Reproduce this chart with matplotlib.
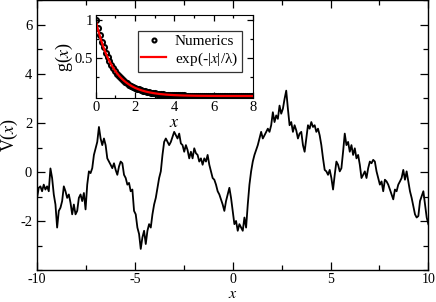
import numpy as np
import matplotlib
matplotlib.use('Agg')
import matplotlib.pyplot as plt
from matplotlib.ticker import MultipleLocator, FixedLocator

plt.rcParams['font.family'] = ['Liberation Serif', 'DejaVu Serif']
plt.rcParams['mathtext.fontset'] = 'stix'
plt.rcParams['axes.unicode_minus'] = False

# ---- main panel: rough potential V(x) ----
x_min, x_max = -10, 10
V = [
    -1.05, -0.64, -0.58, -0.78, -0.51, -0.71, -0.58, -0.78, 0.15, -0.24,
    -0.91, -1.32, -2.26, -1.58, -1.45, -1.18, -0.58, -0.78, -1.05, -0.91,
    -1.25, -1.72, -1.32, -1.72, -1.58, -1.05, -0.91, -1.18, -0.85, -1.52,
    -0.51, 0.03, -0.04, 0.16, 0.70, 0.97, 1.23, 1.84, 1.37, 1.10,
    1.37, 1.10, 0.56, 0.43, 0.30, 0.16, 0.36, 0.09, -0.11, 0.23,
    0.43, 0.36, -0.11, -0.24, -0.51, -0.44, -0.78, -0.71, -1.58, -1.72,
    -2.26, -2.52, -3.13, -2.66, -2.39, -2.93, -2.39, -2.12, -2.26, -1.72,
    -1.32, -1.05, -0.64, -0.24, 0.03, 0.70, 1.23, 1.37, 1.23, 1.10,
    1.23, 1.44, 1.64, 1.50, 1.37, 1.57, 1.17, 1.10, 0.83, 1.10,
    0.90, 0.56, 0.83, 0.56, 0.97, 0.77, 0.70, 0.43, 0.56, 0.30,
    0.56, 0.43, 0.70, 0.30, 0.03, -0.24, -0.31, -0.51, -0.78, -0.91,
    -1.11, -1.32, -1.58, -1.18, -0.91, -0.64, -1.05, -1.58, -2.12, -1.99,
    -2.39, -2.12, -2.26, -2.39, -1.85, -2.26, -1.32, -0.51, 0.03, 0.43,
    0.70, 0.90, 1.10, 1.37, 1.64, 1.37, 1.50, 1.64, 1.77, 1.64,
    1.91, 2.44, 2.04, 2.31, 2.17, 2.71, 2.38, 2.58, 2.98, 3.32,
    2.58, 1.91, 2.04, 1.64, 1.91, 1.70, 1.37, 1.57, 1.64, 1.10,
    0.83, 1.37, 1.91, 1.77, 2.04, 1.84, 1.91, 1.64, 1.77, 1.50,
    1.10, 0.56, 0.09, 0.03, -0.11, 0.09, -0.24, -0.71, -0.11, 0.43,
    0.30, 0.03, 0.16, 0.83, 1.57, 1.10, 1.23, 0.83, 1.10, 0.70,
    0.97, 0.56, 0.70, 0.30, -0.24, -0.11, 0.03, -0.24, 0.16, 0.43,
    0.36, 0.50, 0.43, 0.03, -0.24, -0.51, -0.38, -0.78, -0.31, -0.38,
    -0.51, -0.71, -0.91, -1.11, -0.71, -0.78, -0.51, -0.38, -0.24, 0.09,
    -0.31, 0.03, -0.38, -0.78, -1.05, -1.38, -1.72, -1.85, -1.79, -1.18,
    -0.98, -0.78, -1.32, -1.85, -2.12,
]
x_main = np.linspace(x_min, x_max, len(V))

# ---- inset: correlation function g(x), sampled every 0.1 ----
x_g = np.arange(0, 8.001, 0.1)
g_num = [
    1.000, 0.895, 0.801, 0.717, 0.641, 0.574, 0.513, 0.459, 0.411, 0.368,
    0.329, 0.295, 0.264, 0.236, 0.211, 0.189, 0.169, 0.151, 0.135, 0.121,
    0.108, 0.097, 0.087, 0.078, 0.069, 0.062, 0.056, 0.050, 0.045, 0.040,
    0.036, 0.032, 0.029, 0.026, 0.023, 0.020, 0.018, 0.016, 0.015, 0.013,
    0.012, 0.010, 0.009, 0.008, 0.007, 0.007, 0.006, 0.005, 0.005, 0.004,
    0.004, 0.003, 0.003, 0.003, 0.002, 0.002, 0.002, 0.002, 0.001, 0.001,
    0.001, 0.001, 0.001, 0.001, 0.000, 0.001, 0.000, 0.000, 0.001, 0.000,
    0.000, 0.000, 0.000, 0.000, 0.000, 0.000, 0.000, 0.000, 0.000, 0.000,
    0.000,
]
lam = 0.9


def style_ticks(ax):
    ax.tick_params(which='both', direction='in', top=True, right=True,
                   width=0.9, labelsize=10.5)
    ax.tick_params(which='major', length=6)
    ax.tick_params(which='minor', length=3.5)


fig = plt.figure(figsize=(4.36, 3.02), dpi=100)

ax = fig.add_axes([0.085, 0.105, 0.8975, 0.894])
ax.plot(x_main, V, color='black', lw=1.3)
ax.set_xlim(x_min, x_max)
ax.set_ylim(-4, 7)
ax.xaxis.set_major_locator(FixedLocator([-10, -5, 0, 5, 10]))
ax.xaxis.set_minor_locator(MultipleLocator(2.5))
ax.yaxis.set_major_locator(FixedLocator([-2, 0, 2, 4, 6]))
ax.yaxis.set_minor_locator(MultipleLocator(1))
style_ticks(ax)
ax.tick_params(axis='x', labelsize=10, pad=2)
ax.set_xlabel('$x$', fontsize=11.5, va='baseline')
ax.xaxis.set_label_coords(0.5, -0.102)
ax.set_ylabel('V($x$)', fontsize=13, labelpad=0)
for s in ax.spines.values():
    s.set_linewidth(1.0)

# 插图
ins = fig.add_axes([0.2195, 0.6745, 0.3608, 0.2758])
ins.plot(x_g, g_num, 'o', ms=3.6, mfc='none', mec='black', mew=1.5,
         label='Numerics')
xf = np.linspace(0, 8, 200)
ins.plot(xf, np.exp(-np.abs(xf) / lam), color='red', lw=1.6,
         label='exp(-|$x$|/λ)')
ins.set_xlim(0, 8)
ins.set_ylim(-0.03, 1.07)
ins.xaxis.set_major_locator(MultipleLocator(2))
ins.xaxis.set_minor_locator(MultipleLocator(1))
ins.yaxis.set_major_locator(FixedLocator([0.5, 1]))
ins.yaxis.set_minor_locator(FixedLocator([0.25, 0.75]))
ins.set_yticklabels(['0.5', '1'])
style_ticks(ins)
ins.tick_params(which='major', length=4.5, pad=2)
ins.tick_params(which='minor', length=2.5)
ins.set_xlabel('$x$', fontsize=13, labelpad=0)
ins.set_ylabel('g($x$)', fontsize=13, labelpad=0)
leg = ins.legend(loc='upper right', fontsize=11, frameon=True, fancybox=False,
                 edgecolor='black', borderpad=0.25, handlelength=1.6,
                 handletextpad=0.6, labelspacing=0.15, markerscale=0.8,
                 borderaxespad=0, bbox_to_anchor=(0.93, 0.81))
leg.get_frame().set_linewidth(0.9)

fig.savefig('out.png', dpi=100)
